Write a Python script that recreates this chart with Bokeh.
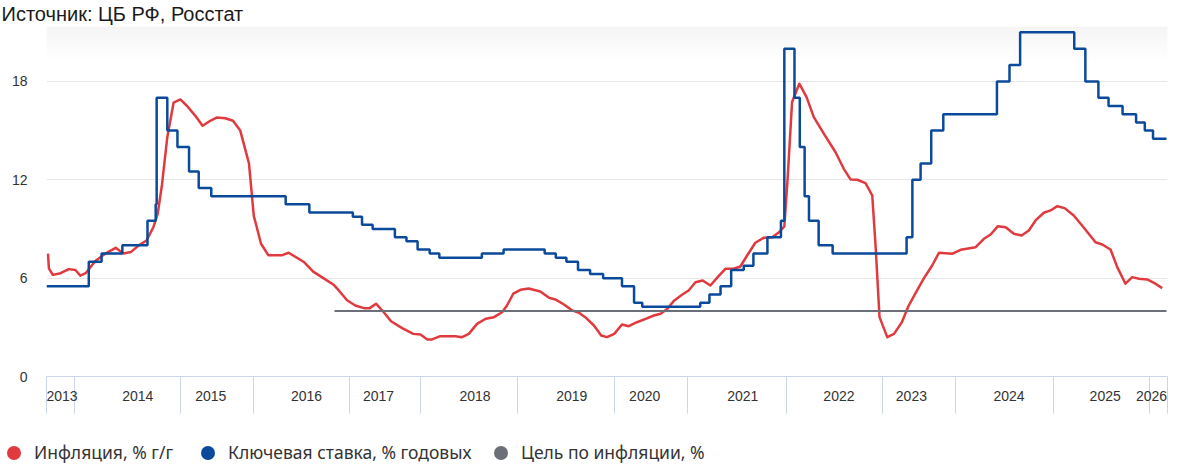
import numpy as np
from bokeh.plotting import figure
from bokeh.models import Range1d, FixedTicker, Div
from bokeh.layouts import column
from bokeh.embed import file_html
from bokeh.resources import INLINE

# ---------------- data (x = observation index along the category axis) ----------------
years = ["2013", "2014", "2015", "2016", "2017", "2018", "2019", "2020",
         "2021", "2022", "2023", "2024", "2025", "2026"]
year_label_pos = [3.2, 18.9, 34.0, 53.8, 68.7, 88.7, 108.7, 123.8,
                  144.1, 164.0, 179.0, 199.2, 219.1, 228.7]
year_bounds = [0, 5.8, 27.7, 42.8, 62.7, 77.4, 97.5, 117.5, 132.7,
               153.1, 173.0, 188.1, 208.4, 228.3, 232]

y_ticks = [0, 6, 12, 18]

# key rate, % (step changes)
rate_pos = [0, 8.75, 11.4, 15.7, 20.9, 22.6, 22.8, 25.0, 27.1, 29.5, 31.5, 34.1,
            49.5, 54.4, 63.4, 65.3, 67.5, 72.1, 74.5, 76.8, 79.3, 81.3, 90.1, 94.6,
            103.1, 105.4, 107.6, 110.0, 112.5, 115.2, 119.1, 121.6, 123.3, 135.3,
            137.2, 139.5, 141.7, 144.3, 146.3, 149.2, 152.0, 152.7, 154.8, 155.9,
            156.9, 157.8, 159.8, 162.7, 178.0, 179.2, 180.9, 183.1, 185.6, 196.7,
            199.3, 201.5, 212.7, 215.0, 217.7, 219.8, 222.7, 225.5, 227.3, 229.0, 231.8]
rate_val = [5.5, 7.0, 7.5, 8.0, 9.5, 10.5, 17.0, 15.0, 14.0, 12.5, 11.5, 11.0,
            10.5, 10.0, 9.75, 9.25, 9.0, 8.5, 8.25, 7.75, 7.5, 7.25, 7.5, 7.75,
            7.5, 7.25, 7.0, 6.5, 6.25, 6.0, 5.5, 4.5, 4.25, 4.5,
            5.0, 5.5, 6.5, 6.75, 7.5, 8.5, 9.5, 20.0, 17.0, 14.0,
            11.0, 9.5, 8.0, 7.5, 8.5, 12.0, 13.0, 15.0, 16.0, 18.0,
            19.0, 21.0, 20.0, 18.0, 17.0, 16.5, 16.0, 15.5, 15.0, 14.5, 14.5]

# inflation, % y/y
infl_pos = [0.3, 0.5, 1.3, 2.9, 4.6, 6.0, 7.0, 8.1, 10.1, 12.2, 14.3, 15.9, 17.5, 19.1,
            20.7, 22.1, 23.0, 23.9, 25.0, 26.3, 27.7, 29.1, 30.8, 32.3, 33.9, 35.3,
            37.0, 38.6, 40.1, 41.9, 42.9, 44.4, 45.9, 48.8, 50.1, 53.2, 55.2, 58.1,
            59.4, 60.5, 62.2, 63.9, 65.7, 66.9, 68.2, 69.8, 71.3, 73.6, 75.9, 77.4,
            78.8, 79.8, 81.5, 84.6, 86.0, 87.4, 89.1, 90.9, 92.6, 94.3, 95.3, 96.6,
            98.1, 99.8, 102.2, 104.0, 105.3, 107.1, 108.8, 110.2, 111.5, 113.3, 114.8,
            116.0, 117.5, 119.1, 120.5, 122.2, 124.0, 125.7, 127.1, 128.5, 129.8,
            131.6, 132.9, 134.3, 135.8, 137.4, 138.9, 140.5, 142.2, 143.6, 145.0,
            146.7, 148.4, 150.2, 151.6, 152.7, 153.4, 154.3, 155.8, 157.3, 158.8,
            160.9, 163.3, 165.0, 166.4, 167.8, 169.5, 170.9, 171.6, 172.4, 174.0,
            175.4, 177.0, 178.4, 179.8, 181.6, 183.3, 184.7, 187.5, 189.2, 192.3,
            194.0, 195.4, 196.9, 198.5, 200.2, 201.8, 203.3, 204.7, 206.4, 207.8,
            209.2, 210.7, 212.6, 214.7, 217.1, 218.5, 220.2, 221.6, 223.3, 224.7,
            226.1, 227.8, 229.5, 230.9]
infl_val = [7.5, 6.6, 6.2, 6.3, 6.55, 6.5, 6.15, 6.3, 7.05, 7.5, 7.85, 7.5, 7.6, 8.0,
            8.3, 9.1, 9.9, 11.7, 14.6, 16.7, 16.9, 16.5, 15.9, 15.3, 15.6, 15.8,
            15.75, 15.6, 15.0, 13.0, 9.8, 8.1, 7.4, 7.4, 7.55, 7.0, 6.4, 5.85,
            5.6, 5.25, 4.65, 4.33, 4.17, 4.17, 4.44, 3.92, 3.37, 2.95, 2.6, 2.56,
            2.26, 2.26, 2.46, 2.46, 2.4, 2.6, 3.21, 3.52, 3.62, 3.92, 4.33, 5.05,
            5.29, 5.37, 5.19, 4.8, 4.7, 4.39, 4.03, 3.89, 3.62, 3.11, 2.5,
            2.4, 2.6, 3.17, 3.07, 3.31, 3.52, 3.72, 3.83, 4.13, 4.6,
            5.0, 5.25, 5.75, 5.86, 5.55, 6.06, 6.57, 6.57, 6.71, 7.38,
            8.16, 8.46, 8.5, 8.8, 9.15, 12.16, 16.74, 17.86, 17.04, 15.82,
            14.8, 13.68, 12.67, 12.02, 12.0, 11.8, 11.04, 7.89, 3.62, 2.4,
            2.6, 3.3, 4.3, 5.05, 6.0, 6.77, 7.55, 7.49, 7.73, 7.89,
            8.4, 8.66, 9.17, 9.11, 8.71, 8.6, 8.91, 9.52, 9.99, 10.13,
            10.39, 10.27, 9.82, 9.07, 8.19, 8.05, 7.75, 6.67, 5.66, 6.06,
            5.96, 5.92, 5.66, 5.39]

# inflation target, %
target_pos = [59.6, 231.8]
target_val = [4.0, 4.0]

title_text = "Источник: ЦБ РФ, Росстат"
legend_labels = ["Инфляция, % г/г", "Ключевая ставка, % годовых", "Цель по инфляции, %"]

# ---------------- style ----------------
RED = "#e03a3e"
BLUE = "#0b4a9b"
GREY = "#6d6f78"
AXIS_COL = "#ccd6eb"
GRID_COL = "#e6e6e6"
TEXT_COL = "#333333"

FRAME_W, FRAME_H = 1121, 350
FRAME_TOP = 26
BOTTOM = 52
TOTAL_W = 46 + FRAME_W + 8
X_MAX = 232
Y_MAX = 21.35
px_y = Y_MAX / FRAME_H

p = figure(frame_width=FRAME_W, frame_height=FRAME_H,
           x_range=Range1d(0, X_MAX), y_range=Range1d(0, Y_MAX),
           title=title_text,
           output_backend="svg", toolbar_location=None,
           min_border_left=46, min_border_right=8,
           min_border_top=FRAME_TOP, min_border_bottom=BOTTOM,
           background_fill_color="white", border_fill_color="white",
           outline_line_color=None)

# source note (title)
p.title.align = "left"
p.title.offset = -45
p.title.standoff = 0
p.title.vertical_align = "top"
p.title.text_font = "Liberation Sans"
p.title.text_font_size = "20px"
p.title.text_font_style = "normal"
p.title.text_color = "#1a1a1a"

# soft grey gradient at the top of the chart area
n_rows = 32
img = np.zeros((n_rows, 1), dtype=np.uint32)
view = img.view(dtype=np.uint8).reshape((n_rows, 1, 4))
for i in range(n_rows):
    s = FRAME_TOP + (n_rows - i - 0.5)     # screen px from the top
    c = int(min(255, 237 + 18 * s / 58.0))
    view[i, 0, :] = [c, c, c, 255]
p.image_rgba(image=[img], x=0, y=Y_MAX - n_rows * px_y, dw=X_MAX, dh=n_rows * px_y)

# x axis: year labels, long separator ticks between years
xa = p.xaxis[0]
xa.ticker = FixedTicker(ticks=year_label_pos, minor_ticks=year_bounds)
xa.major_label_overrides = {pos: lab for pos, lab in zip(year_label_pos, years)}
xa.major_tick_out = 0
xa.major_tick_in = 0
xa.major_tick_line_color = None
xa.minor_tick_out = 37
xa.minor_tick_in = 0
xa.minor_tick_line_color = AXIS_COL
xa.minor_tick_line_width = 1
xa.axis_line_color = AXIS_COL
xa.axis_line_width = 1
xa.major_label_standoff = -23
xa.major_label_text_font = "Liberation Sans"
xa.major_label_text_font_size = "14px"
xa.major_label_text_color = TEXT_COL

ya = p.yaxis[0]
ya.ticker = FixedTicker(ticks=y_ticks)
ya.axis_line_color = None
ya.major_tick_line_color = None
ya.minor_tick_line_color = None
ya.major_tick_out = 0
ya.major_tick_in = 0
ya.minor_tick_out = 0
ya.minor_tick_in = 0
ya.major_label_standoff = 19
ya.major_label_text_font = "Liberation Sans"
ya.major_label_text_font_size = "14px"
ya.major_label_text_color = TEXT_COL

p.xgrid.grid_line_color = None
p.ygrid.ticker = FixedTicker(ticks=y_ticks)
p.ygrid.grid_line_color = GRID_COL
p.ygrid.grid_line_width = 1

# series
p.line(infl_pos, infl_val, line_color=RED, line_width=2.5, line_join="round")
p.step(rate_pos, rate_val, mode="after", line_color=BLUE, line_width=2.5)
p.line(target_pos, target_val, line_color=GREY, line_width=2)

# ---------------- legend strip (round markers + labels) ----------------
LEG_H = 40
dot_left = [7, 201, 494]          # px, left edge of each 14px dot
legend_colors = [RED, BLUE, GREY]
parts = []
for lab, col, dx in zip(legend_labels, legend_colors, dot_left):
    parts.append(
        f'<span style="position:absolute;left:{dx}px;top:18px;width:14px;height:14px;'
        f'border-radius:50%;background:{col};"></span>'
        f'<span style="position:absolute;left:{dx + 27}px;top:16px;line-height:17px;'
        f'white-space:nowrap;font-family:\'Noto Sans\';font-size:17.5px;color:{TEXT_COL};">'
        f'{lab}</span>')
legend_html = (f'<div style="position:relative;width:{TOTAL_W}px;height:{LEG_H}px;'
               f'margin:0;padding:0;">' + "".join(parts) + '</div>')
legend_div = Div(text=legend_html, width=TOTAL_W, height=LEG_H, margin=0)

layout = column(p, legend_div, spacing=0)
open("out.html", "w").write(file_html(layout, INLINE))
